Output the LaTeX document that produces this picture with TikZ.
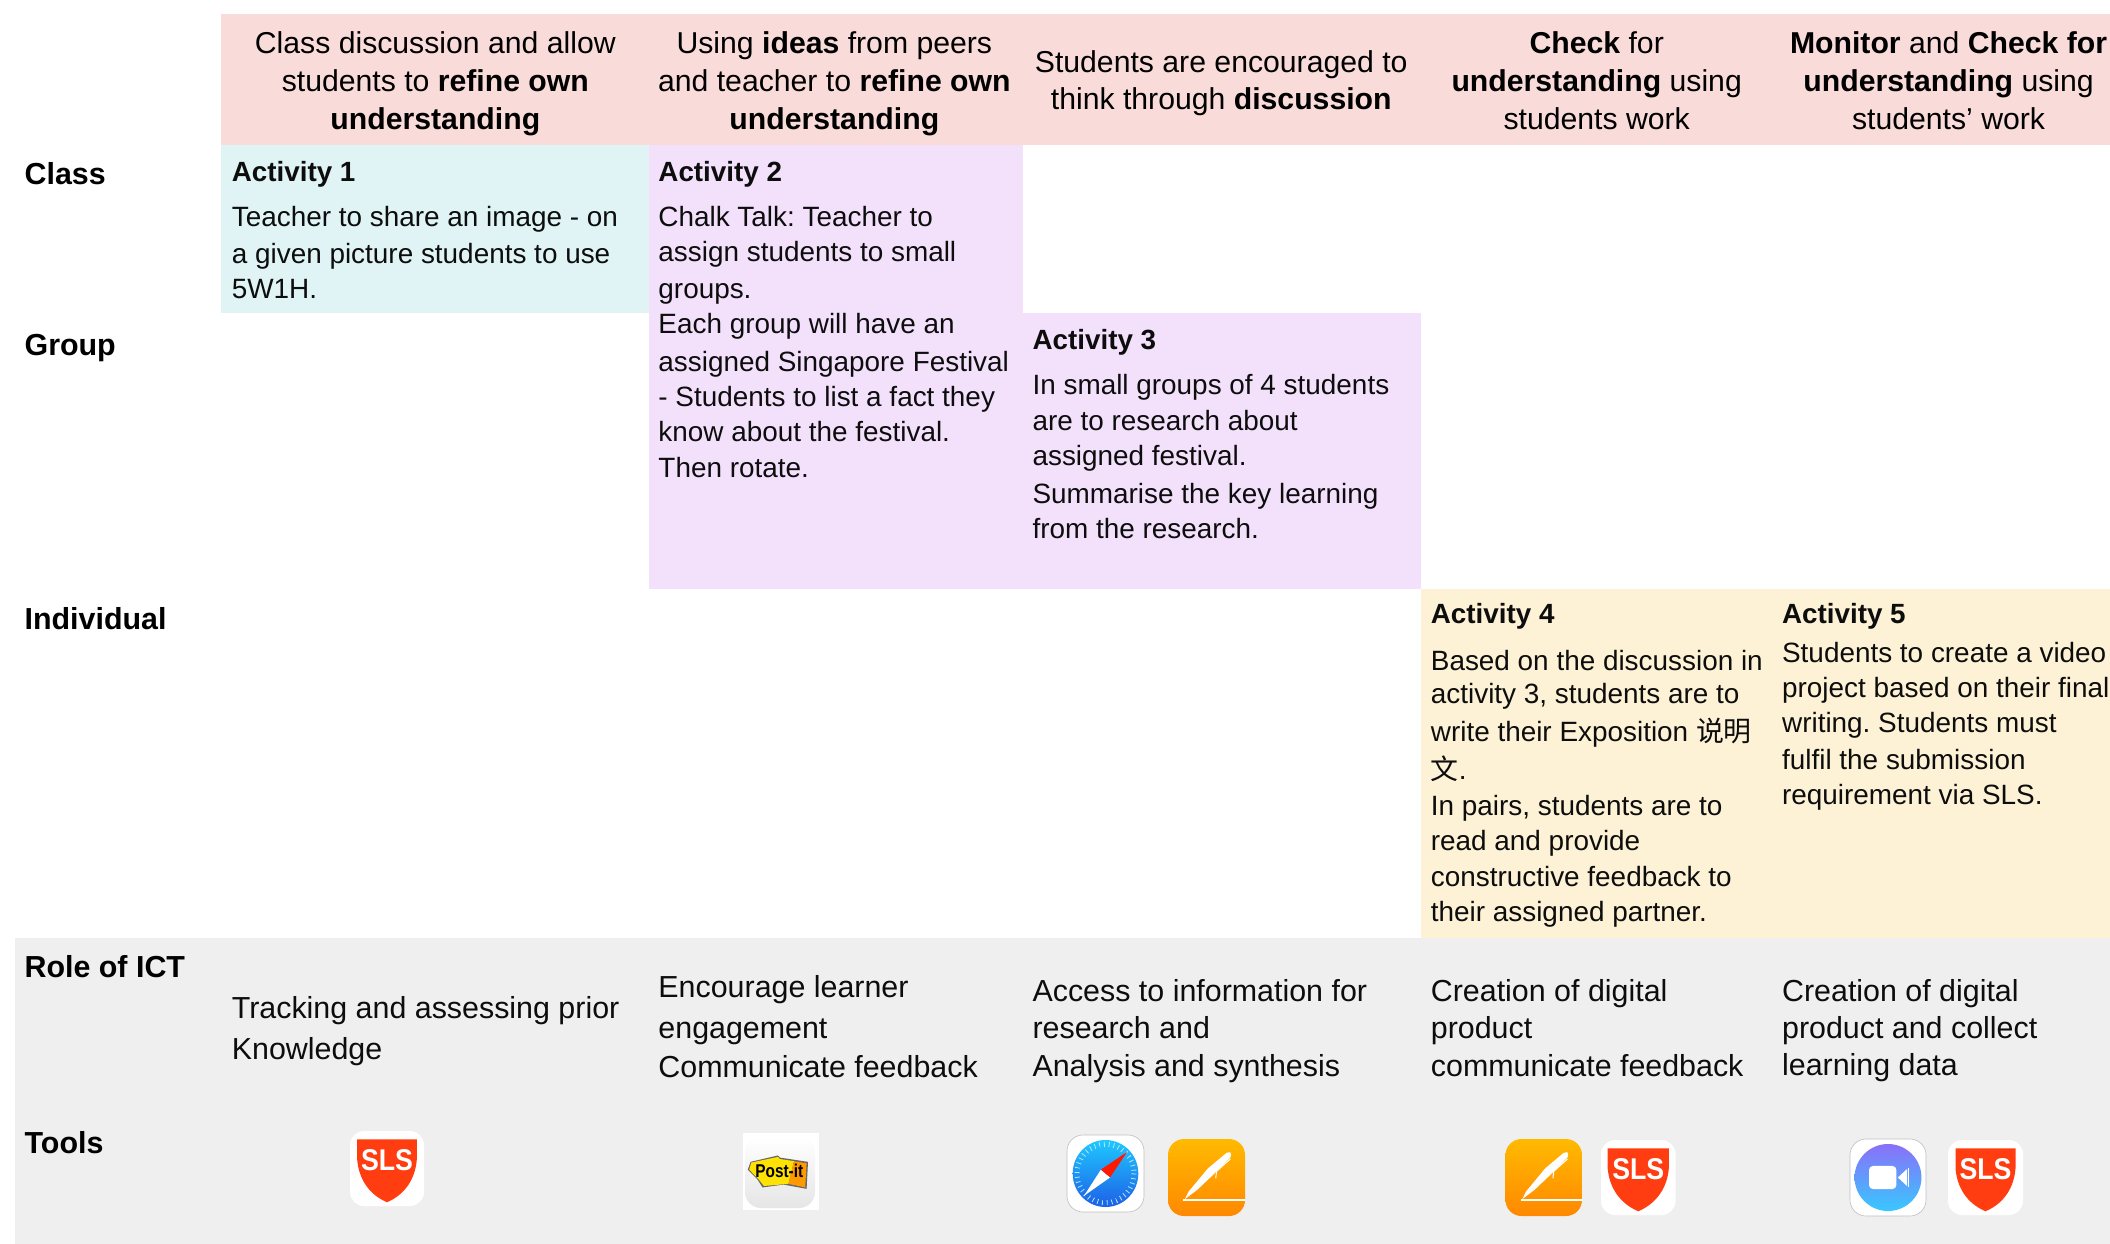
\documentclass[tikz,border=0pt]{standalone}
\usepackage{fontspec}
\setmainfont{Liberation Sans}
\newfontfamily\cjkfont{Noto Sans CJK SC}
\definecolor{headbg}{HTML}{F9DCD9}
\definecolor{actone}{HTML}{E0F4F5}
\definecolor{actpurple}{HTML}{F3E1FC}
\definecolor{actyellow}{HTML}{FDF2D5}
\definecolor{greybg}{HTML}{EFEFEF}
\definecolor{slsred}{HTML}{FF3D10}
\tikzset{
  bodyline/.style={anchor=base west,inner sep=0pt,font=\fontsize{13.95}{16}\selectfont,text=black!95},
  boldline/.style={bodyline,font=\fontsize{13.9}{16}\selectfont\bfseries},
  roleline/.style={bodyline,font=\fontsize{15.2}{17}\selectfont},
  sideline/.style={anchor=base west,inner sep=0pt,font=\fontsize{15.2}{17}\selectfont\bfseries},
  headline/.style={anchor=base,inner sep=0pt,font=\fontsize{15.1}{17}\selectfont},
}
\newcommand{\tl}[5][bodyline]{\node[#1] (#2) at ({#3*1.3457},{#4*1.3457}) {#5};}
\newcommand{\hl}[4]{\node[headline] (#1) at ({#2*1.3457},{#3*1.3457}) {#4};}
% icon box: x0 y0 x1 y1, contents in 0..100 units
\newcommand{\boxscope}[4]{%
  \pgfmathsetmacro\ww{(#3-#1)/100*0.5}\pgfmathsetmacro\hh{(#4-#2)/100*0.5}%
  \begin{scope}[shift={(#1,#2)},x=\ww pt,y=-\hh pt]}
\newcommand{\slsicon}[6]{% name, x0,y0,x1,y1, inset-x
  \boxscope{#2}{#3}{#4}{#5}
    \fill[white,rounded corners=7pt] (0,0) rectangle (100,100);
    \fill[slsred] (#6,11) -- (#6,38) .. controls (#6+2,62) and (24,84) .. (50,95)
       .. controls (76,84) and (100-#6-2,62) .. (100-#6,38) -- (100-#6,11) -- cycle;
    \node[inner sep=0pt,text=white,xscale=0.89,font=\fontsize{15}{15}\selectfont\bfseries] (#1) at (50,39) {SLS};
  \end{scope}}
\newcommand{\pagesicon}[5]{%
  \boxscope{#2}{#3}{#4}{#5}
    \shade[rounded corners=8pt,top color={rgb,255:red,255;green,186;blue,0},bottom color={rgb,255:red,255;green,136;blue,0}] (0,0) rectangle (100,100);
    \coordinate (#1) at (50,50);
    \fill[white] (22,78) -- (27,68) -- (52,38) -- (76,18) .. controls (79,16) and (83,17) .. (82,20) -- (81,24) -- (58,47) -- (38,66) -- cycle;
    \draw[white,line width=0.5pt] (81,26) -- (63,42) -- (62,51);
    \fill[white] (20,78.5) rectangle (100,80.5);
  \end{scope}}
\begin{document}
\begin{tikzpicture}[x=0.5pt,y=-0.5pt]
\frenchspacing
\useasboundingbox (0,0) rectangle (2110,1243);
\clip (0,0) rectangle (2110,1243);
\fill[white] (0,0) rectangle (2110,1243);
% colour bands
\fill[headbg] (221,14) rectangle (2110,145);
\fill[actone] (221,145) rectangle (649,313);
\fill[actpurple] (649,145) rectangle (1023,589);
\fill[actpurple] (1023,313) rectangle (1421,589);
\fill[actyellow] (1421,589) rectangle (2110,938);
\fill[greybg] (15,938) rectangle (2110,1245);
% headers
\hl{ha}{323.5}{40}{Class discussion and allow}
\hl{hb}{323.5}{68}{students to \textbf{refine own}}
\hl{hc}{323.5}{96}{\textbf{understanding}}
\hl{hd}{620}{40}{Using \textbf{ideas} from peers}
\hl{he}{620}{68}{and teacher to \textbf{refine own}}
\hl{hf}{620}{96}{\textbf{understanding}}
\hl{hg}{907.5}{54}{Students are encouraged to}
\hl{hh}{907.5}{81}{think through \textbf{discussion}}
\hl{hi}{1186.5}{40}{\textbf{Check} for}
\hl{hj}{1186.5}{68}{\textbf{understanding} using}
\hl{hk}{1186.5}{96}{students work}
\hl{hl}{1448}{40}{\textbf{Monitor} and \textbf{Check for}}
\hl{hm}{1448}{68}{\textbf{understanding} using}
\hl{hn}{1448}{96}{students’ work}
% side labels
\tl[sideline]{sa}{18}{137.2}{Class}
\tl[sideline]{sb}{18}{264}{Group}
\tl[sideline]{sc}{18}{468}{Individual}
\tl[sideline]{sd}{18}{726.7}{Role of ICT}
\tl[sideline]{se}{18}{857}{Tools}
% activity 1
\tl[boldline]{aa}{172}{135}{Activity 1}
\tl{ab}{172}{168}{Teacher to share an image - on}
\tl{ac}{172}{196}{a given picture students to use}
\tl{ad}{172}{222}{5W1H.}
% activity 2
\tl[boldline]{ba}{489}{135}{Activity 2}
\tl{bb}{489}{168}{Chalk Talk: Teacher to}
\tl{bc}{489}{194}{assign students to small}
\tl{bd}{489}{222}{groups.}
\tl{be}{489}{248}{Each group will have an}
\tl{bf}{489}{276}{assigned Singapore Festival}
\tl{bg}{489}{302}{- Students to list a fact they}
\tl{bh}{489}{328}{know about the festival.}
\tl{bi}{489}{355}{Then rotate.}
% activity 3
\tl[boldline]{ca}{767}{260}{Activity 3}
\tl{cb}{767}{293}{In small groups of 4 students}
\tl{cc}{767}{320}{are to research about}
\tl{cd}{767}{346}{assigned festival.}
\tl{ce}{767}{374}{Summarise the key learning}
\tl{cf}{767}{400}{from the research.}
% activity 4
\tl[boldline]{da}{1063}{463}{Activity 4}
\tl{db}{1063}{498}{Based on the discussion in}
\tl{dc}{1063}{523}{activity 3, students are to}
\tl{dd}{1063}{551}{write their Exposition {\cjkfont 说明}}
\tl{de}{1063}{579}{{\cjkfont 文}.}
\tl{df}{1063}{606}{In pairs, students are to}
\tl{dg}{1063}{632}{read and provide}
\tl{dh}{1063}{659}{constructive feedback to}
\tl{di}{1063}{685}{their assigned partner.}
% activity 5
\tl[boldline]{ea}{1324}{463}{Activity 5}
\tl{eb}{1324}{492}{Students to create a video}
\tl{ec}{1324}{518}{project based on their final}
\tl{ed}{1324}{544}{writing. Students must}
\tl{ee}{1324}{572}{fulfil the submission}
\tl{ef}{1324}{598}{requirement via SLS.}
% role of ICT
\tl[roleline]{ra}{172}{756.5}{Tracking and assessing prior}
\tl[roleline]{rb}{172}{787.5}{Knowledge}
\tl[roleline]{rc}{489}{741}{Encourage learner}
\tl[roleline]{rd}{489}{772}{engagement}
\tl[roleline]{re}{489}{801}{Communicate feedback}
\tl[roleline]{rf}{767}{744}{Access to information for}
\tl[roleline]{rg}{767}{772}{research and}
\tl[roleline]{rh}{767}{800}{Analysis and synthesis}
\tl[roleline]{ri}{1063}{744}{Creation of digital}
\tl[roleline]{rj}{1063}{772}{product}
\tl[roleline]{rk}{1063}{800}{communicate feedback}
\tl[roleline]{rl}{1324}{744}{Creation of digital}
\tl[roleline]{rm}{1324}{772}{product and collect}
\tl[roleline]{rn}{1324}{799}{learning data}
% icons
\slsicon{slsa}{350}{1131}{424}{1206}{9.7}
\slsicon{slsb}{1601}{1140}{1675.5}{1215}{9}
\slsicon{slsc}{1948}{1140}{2023}{1215}{10}
\pagesicon{pagesa}{1168}{1139}{1245}{1216}
\pagesicon{pagesb}{1505.5}{1139}{1582}{1216}
% post-it
\fill[white] (743,1133) rectangle (819,1210);
\boxscope{745}{1137}{815}{1208}
  \shade[top color=white,bottom color=black!10,rounded corners=8pt] (0,0) rectangle (100,100);
  \fill[black!60] (8,35) -- (47,26) -- (50,29) -- (90,35) -- (88,73) -- (55,67) -- (25,71) -- (18,60) -- (4,46) -- cycle;
  \fill[yellow!85!orange] (9,36) -- (47,28) -- (50,31) -- (70,34) -- (62,66) -- (27,69) -- (19,59) -- (6,46) -- cycle;
  \fill[orange!80!yellow] (70,34) -- (88,37) -- (86,71) -- (62,66) -- cycle;
  \node[inner sep=0pt,xscale=1.04,yscale=1.25,font=\fontsize{7.4}{7}\selectfont\bfseries] (postit) at (49,48) {Post-it};
\end{scope}
% safari
\boxscope{1067}{1135}{1144}{1212}
  \fill[white,rounded corners=8pt,draw=black!25,line width=0.3pt] (0,0) rectangle (100,100);
  \shade[top color={rgb,255:red,30;green,200;blue,255},bottom color={rgb,255:red,30;green,95;blue,230}] (50,50) ellipse [x radius=42.6,y radius=43.5];
  \draw[white!70!cyan,line width=2.5pt,dash pattern=on 0.4pt off 2pt] (50,50) ellipse [x radius=37,y radius=38];
  \fill[white] (22,79) -- (44,45) -- (56,55) -- cycle;
  \fill[red!80!orange] (78,22) -- (44,45) -- (56,55) -- cycle;
  \coordinate (safari) at (50,50);
\end{scope}
% clips / video icon
\boxscope{1850}{1139}{1926}{1216}
  \fill[white,rounded corners=8pt,draw=black!25,line width=0.3pt] (0,0) rectangle (100,100);
  \shade[top color={rgb,255:red,138;green,112;blue,248},bottom color={rgb,255:red,56;green,200;blue,255}] (50,50) ellipse [x radius=44,y radius=43.5];
  \fill[white,rounded corners=2pt] (25,35) rectangle (61,65);
  \fill[white] (63,50) -- (75,39) -- (75,61) -- cycle;
  \fill[white] (76,38) rectangle (78,62);
  \coordinate (clips) at (50,50);
\end{scope}
\end{tikzpicture}
\end{document}
